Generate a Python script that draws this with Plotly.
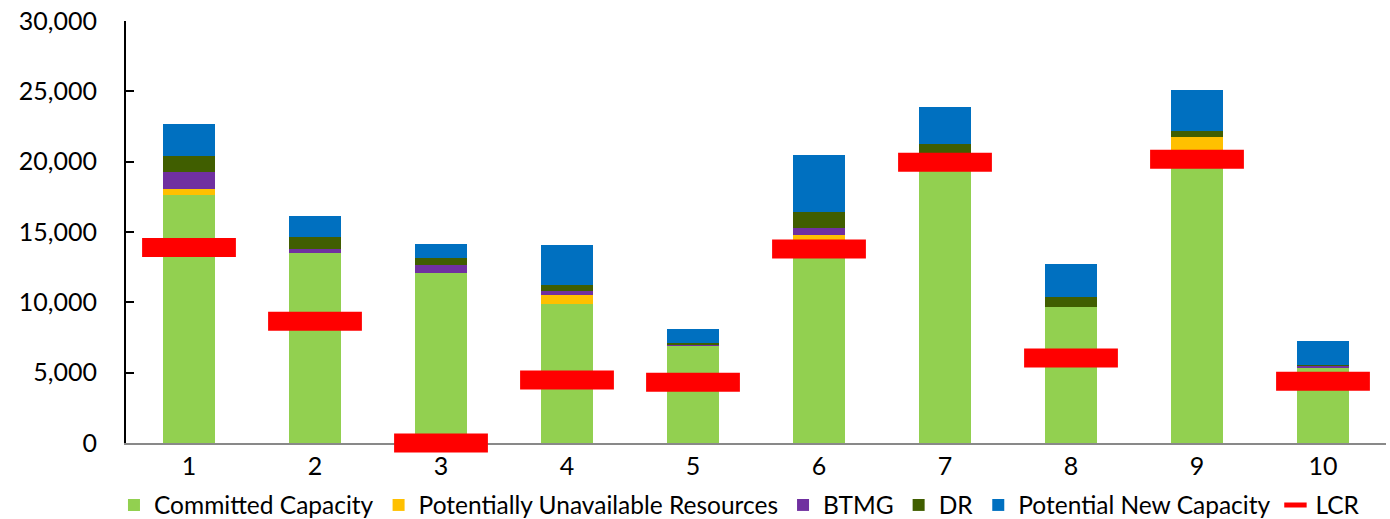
import plotly.graph_objects as go

# Zones and capacity stack (MW)
zones = ["1", "2", "3", "4", "5", "6", "7", "8", "9", "10"]
committed = [17630, 13500, 12100, 9900, 6920, 14400, 20400, 9670, 20500, 5400]
unavailable = [430, 0, 0, 620, 0, 400, 0, 0, 1270, 0]
btmg = [1180, 300, 550, 280, 100, 500, 0, 0, 0, 100]
dr = [1180, 850, 520, 430, 110, 1140, 880, 730, 430, 50]
new_capacity = [2230, 1520, 970, 2820, 970, 4030, 2610, 2300, 2870, 1700]
lcr = [13900, 8650, 0, 4480, 4310, 13800, 19950, 6040, 20170, 4390]

y_ticks = [0, 5000, 10000, 15000, 20000, 25000, 30000]

FONT = "Lato"
FSIZE = 25

series = [
    ("Committed Capacity", committed, "#92D050"),
    ("Potentially Unavailable Resources", unavailable, "#FFC000"),
    ("BTMG", btmg, "#7030A0"),
    ("DR", dr, "#405E00"),
    ("Potential New Capacity", new_capacity, "#0070C0"),
]

fig = go.Figure()
for name, vals, color in series:
    fig.add_trace(go.Bar(
        x=zones, y=vals, name=name,
        marker=dict(color=color, line=dict(width=0)),
    ))

fig.add_trace(go.Scatter(
    x=zones, y=lcr, name="LCR", mode="markers",
    marker=dict(symbol="line-ew", size=67,
                line=dict(color="#FF0000", width=19)),
    cliponaxis=False,
))

fig.update_layout(
    width=1390, height=519,
    barmode="stack", bargap=0.58,
    paper_bgcolor="white", plot_bgcolor="white",
    margin=dict(l=126, r=4, t=21, b=76, autoexpand=False),
    font=dict(family=FONT, size=FSIZE, color="#000000"),
    showlegend=True,
    legend=dict(orientation="h", traceorder="normal",
                x=0.532, xanchor="center", xref="container",
                y=(519 - 505) / 519, yanchor="middle", yref="container",
                font=dict(family=FONT, size=24.5, color="#000000"),
                itemwidth=30, tracegroupgap=0),
    xaxis=dict(type="category", range=[-0.5, 9.5], showline=True,
               linecolor="#898989", linewidth=2, ticks="", showgrid=False,
               layer="below traces",
               tickfont=dict(family=FONT, size=FSIZE)),
    yaxis=dict(range=[0, 30000], tickvals=y_ticks,
               tickformat=",d", showline=True, linecolor="#000000",
               linewidth=2, ticks="inside", ticklen=8, tickcolor="#000000",
               tickwidth=2, showgrid=False, zeroline=False,
               ticklabelstandoff=22,
               tickfont=dict(family=FONT, size=FSIZE)),
)

fig.write_html("out.html")
